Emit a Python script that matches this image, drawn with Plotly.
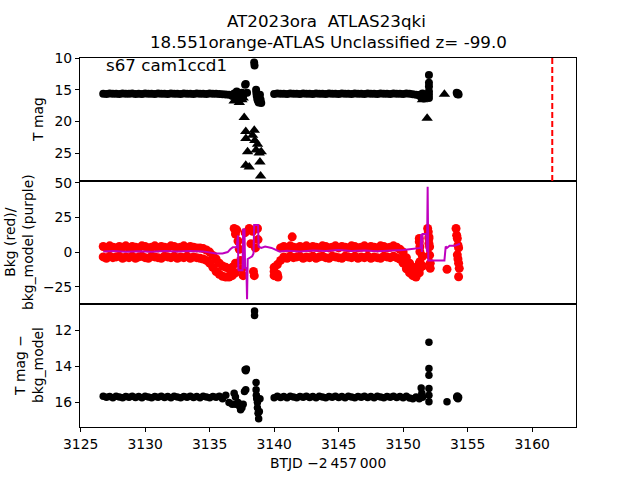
import plotly.graph_objects as go

# ---------------- data ----------------
t_seg1 = [3126.75, 3127.0, 3127.25, 3127.5, 3127.75, 3128.0, 3128.25, 3128.5, 3128.75, 3129.0,
          3129.25, 3129.5, 3129.75, 3130.0, 3130.25, 3130.5, 3130.75, 3131.0, 3131.25, 3131.5,
          3131.75, 3132.0, 3132.25, 3132.5, 3132.75, 3133.0, 3133.25, 3133.5, 3133.75, 3134.0,
          3134.25, 3134.5, 3134.75, 3135.0, 3135.25, 3135.5, 3135.75, 3136.0, 3136.25, 3136.5,
          3136.75, 3137.0]
t_seg2 = [3140.0, 3140.25, 3140.5, 3140.75, 3141.0, 3141.25, 3141.5, 3141.75, 3142.0, 3142.25,
          3142.5, 3142.75, 3143.0, 3143.25, 3143.5, 3143.75, 3144.0, 3144.25, 3144.5, 3144.75,
          3145.0, 3145.25, 3145.5, 3145.75, 3146.0, 3146.25, 3146.5, 3146.75, 3147.0, 3147.25,
          3147.5, 3147.75, 3148.0, 3148.25, 3148.5, 3148.75, 3149.0, 3149.25, 3149.5, 3149.75,
          3150.0, 3150.25, 3150.5, 3150.75, 3151.0, 3151.25, 3151.5]

# top panel: T mag
tmag_seg1 = [15.62, 15.66, 15.6, 15.65, 15.62, 15.68, 15.6, 15.65, 15.63, 15.6, 15.66, 15.62, 15.68, 15.6,
             15.65, 15.62, 15.66, 15.6, 15.65, 15.62, 15.68, 15.6, 15.65, 15.63, 15.66, 15.6, 15.65, 15.62,
             15.68, 15.6, 15.65, 15.62, 15.66, 15.6, 15.65, 15.62, 15.66, 15.7, 15.75, 15.8, 16.0, 15.8]
tmag_seg2 = [15.66, 15.6, 15.65, 15.62, 15.68, 15.6, 15.65, 15.62, 15.66, 15.6, 15.65, 15.62, 15.68, 15.6,
             15.65, 15.62, 15.66, 15.6, 15.65, 15.62, 15.68, 15.6, 15.65, 15.62, 15.66, 15.6, 15.65, 15.62,
             15.68, 15.6, 15.65, 15.62, 15.66, 15.6, 15.65, 15.62, 15.68, 15.6, 15.65, 15.62, 15.66, 15.6,
             15.65, 15.7, 15.8, 15.9, 15.8]
tmag_clu_t = [3136.9, 3137.0, 3137.1, 3137.2, 3137.3, 3137.4, 3137.5, 3137.6, 3137.75, 3137.8,
              3137.9, 3138.45, 3138.48, 3138.6, 3138.62, 3138.65, 3138.7, 3138.75, 3138.8, 3138.85,
              3138.9, 3138.95, 3139.0, 3151.3, 3151.4, 3151.5, 3151.6, 3152.0, 3152.0, 3152.0,
              3152.0, 3152.0, 3152.0, 3154.15, 3154.2, 3154.25, 3154.3]
tmag_clu_v = [15.6, 16.2, 15.3, 16.5, 15.8, 16.2, 15.5, 16.0, 14.2, 14.1,
              15.5, 10.7, 11.2, 15.0, 15.5, 16.0, 16.5, 16.8, 17.0, 16.2,
              15.8, 16.6, 17.1, 15.8, 16.2, 15.6, 16.4, 12.7, 13.9, 14.5,
              15.3, 15.8, 16.3, 15.5, 15.7, 15.6, 15.75]
tri_t = [3136.9, 3137.1, 3137.3, 3137.5, 3137.6, 3137.68, 3137.8, 3137.81, 3137.94, 3137.8,
         3138.07, 3138.46, 3138.33, 3138.5, 3138.6, 3138.71, 3138.84, 3138.9, 3139.0, 3138.95,
         3151.5, 3151.8, 3151.86, 3153.2]
tri_v = [16.8, 16.6, 17.0, 16.6, 16.3, 19.4, 21.6, 22.7, 24.8, 26.9,
         27.2, 21.4, 22.2, 23.0, 24.5, 23.6, 25.0, 26.4, 24.8, 28.6,
         16.6, 16.0, 19.5, 15.7]
event_t = [3161.56]

# middle panel: background (red) upper / lower scatter and model (purple)
bkg_hi_seg1 = [4, 3, 4.5, 3.5, 3, 4, 3.5, 4.5, 3, 4, 3.5, 3, 4.5, 4, 3, 3.5, 4.5, 3, 4, 3.5, 3, 4.5, 4, 3,
               3.5, 4.5, 3, 4, 3.5, 3, 3, 2.5, 1.5, 0, -2.5, -5, -8, -10, -11, -12, -11, -8]
bkg_lo_seg1 = [-3.5, -4.5, -3, -4, -3.5, -3, -4.5, -3.5, -4, -3, -4.5, -3.5, -3, -4, -4.5, -3, -3.5, -4,
               -4.5, -3, -3.5, -4, -3, -4.5, -3.5, -4, -3, -4.5, -3.5, -4, -4.5, -5, -6, -8, -11, -14,
               -16, -17.5, -18, -18, -17, -15]
bkg_hi_seg2 = [-11, -9, 3,
               4, 3, 4.5, 3.5, 3, 4, 3.5, 4.5, 3, 4, 3.5, 3, 4.5, 4, 3, 3.5, 4.5, 3,
               4, 3.5, 3, 4.5, 4, 3, 3.5, 4.5, 3, 4, 3.5, 3, 4.5, 4, 3, 3.5, 4.5, 3.5,
               2, 0, -4, -8, -11, -12, -8, -3]
bkg_lo_seg2 = [-17, -16, -6,
               -3.5, -4.5, -3, -4, -3.5, -3, -4.5, -3.5, -4, -3, -4.5, -3.5, -3, -4, -4.5, -3, -3.5, -4,
               -4.5, -3, -3.5, -4, -3, -4.5, -3.5, -4, -3, -4.5, -3.5, -4, -4.5, -3, -3.5, -4, -3, -4,
               -5, -8, -12, -15, -17, -18, -15, -10]
bkg_clu_t = [3136.9, 3137.0, 3137.1, 3137.2, 3137.3, 3137.4, 3137.5, 3137.6, 3137.75, 3138.07,
             3138.2, 3138.33, 3138.4, 3138.46, 3138.55, 3138.71, 3138.75, 3140.0, 3140.3, 3141.4,
             3151.25, 3151.25, 3151.3, 3151.3, 3151.3, 3151.3, 3151.9, 3151.95, 3152.0, 3152.0,
             3152.0, 3152.05, 3152.05, 3152.1, 3152.1, 3153.4, 3154.1, 3154.15, 3154.2, 3154.25,
             3154.3, 3154.2, 3154.25, 3154.3, 3154.35, 3154.3]
bkg_clu_v = [17, 13, 16, 8, 2, -6, -12, -17, 14, 17,
             6, 15, -14, -17, 3, 17, 9, -14, -18, 11,
             9.8, 7.4, 3.8, 0.2, -7, -11.7, 17, 14.6, 11, 9.8,
             6.2, 3.8, -2.2, -8, -11.7, -12.4, 17, 12.2, 9.8, 5,
             3, -2, -5, -8, -11.7, -17.8]
model_t = [3126.75, 3127.5, 3128.5, 3129.5, 3130.5, 3131.5, 3132.5, 3133.5, 3134.5, 3135.0,
           3135.5, 3136.0, 3136.4, 3136.6, 3136.8, 3137.1, 3137.2, 3137.22, 3137.25, 3137.55,
           3137.6, 3137.65, 3137.7, 3137.75, 3137.85, 3137.9, 3137.95, 3138.3, 3138.4, 3138.45,
           3138.75, 3138.8, 3139.0, 3139.3, 3139.8, 3140.4, 3141.0, 3142.0, 3143.0, 3144.0,
           3145.0, 3146.0, 3147.0, 3148.0, 3149.0, 3149.5, 3150.0, 3150.5, 3151.0, 3151.35,
           3151.4, 3151.45, 3151.5, 3151.8, 3151.85, 3151.9, 3151.95, 3153.2, 3153.3, 3153.4,
           3153.6, 3154.0, 3154.4]
model_v = [0.5, 0.8, 0.3, 0.6, 0.2, 0.7, 0.4, 0.8, 0.5, -0.5,
           -1, -1, 0, 2, 3.5, 3.5, 12, -12, -13, -13,
           17, -12, 17, -11, -12, -34, -5, -3, -1, 19.5,
           19.5, 4, 3, 4, 3, 0.5, 1, 0.5, 1.2, 0.8,
           1.5, 0.8, 1.2, 0.6, 0.9, 1, 1.5, 2, 2.5, 3,
           13, 0, 13, 13, 0, 47, -6, -6, 4, 3,
           4.5, 4.5, 6]

# bottom panel: T mag - bkg_model
diff_seg1 = [15.66, 15.72, 15.68, 15.74, 15.66, 15.7, 15.74, 15.67, 15.71, 15.66, 15.73, 15.68, 15.74, 15.66,
             15.7, 15.74, 15.67, 15.71, 15.66, 15.73, 15.68, 15.74, 15.66, 15.7, 15.74, 15.67, 15.71, 15.66,
             15.73, 15.68, 15.74, 15.66, 15.7, 15.74, 15.67, 15.71, 15.66, 15.8, 15.6, 16.0, 16.1, 15.7]
diff_seg2 = [15.74, 15.66, 15.73, 15.68, 15.74, 15.66, 15.7, 15.74, 15.67, 15.71, 15.66, 15.73, 15.68, 15.74,
             15.66, 15.7, 15.74, 15.67, 15.71, 15.66, 15.73, 15.68, 15.74, 15.66, 15.7, 15.74, 15.67, 15.71,
             15.66, 15.73, 15.68, 15.74, 15.66, 15.7, 15.74, 15.67, 15.71, 15.66, 15.73, 15.68, 15.74, 15.66,
             15.75, 15.8, 15.7, 15.8, 15.7]
diff_clu_t = [3136.9, 3137.0, 3137.2, 3137.3, 3137.4, 3137.5, 3137.6, 3137.75, 3137.8, 3137.85,
              3137.7, 3137.8, 3138.48, 3138.48, 3138.6, 3138.6, 3138.62, 3138.65, 3138.7, 3138.7,
              3138.75, 3138.8, 3138.85, 3138.9, 3151.4, 3151.45, 3151.5, 3152.0, 3152.0, 3152.0,
              3152.0, 3152.0, 3152.0, 3153.4, 3154.15, 3154.2, 3154.25, 3154.3, 3154.2]
diff_clu_v = [15.5, 16.1, 16.0, 16.2, 16.4, 16.3, 16.1, 14.2, 14.25, 14.15,
              15.4, 15.3, 10.95, 11.2, 14.9, 15.3, 15.6, 15.8, 16.0, 16.3,
              16.6, 16.9, 16.5, 15.8, 15.2, 15.5, 15.7, 12.68, 14.12, 14.5,
              15.23, 15.6, 15.97, 15.97, 15.7, 15.75, 15.8, 15.72, 15.65]

x_ticks = [3125, 3130, 3135, 3140, 3145, 3150, 3155, 3160]
top_ticks = [10, 15, 20, 25]
mid_ticks = [-25, 0, 25, 50]
bot_ticks = [12, 14, 16]

title1 = "AT2023ora\u00a0\u00a0ATLAS23qki"
title2 = "18.551orange-ATLAS Unclassified z= -99.0"
panel_label = "s67 cam1ccd1"
x_label = "BTJD \u22122\u2009457\u2009000"

# ---------------- figure ----------------
W, H = 640, 480
FONT = "DejaVu Sans"
BLACK = "#000000"
RED = "#ff0000"
PURPLE = "#bf00bf"

fig = go.Figure()

# top panel (x3/y3)
for tt, vv in [(t_seg1, tmag_seg1), (t_seg2, tmag_seg2), (tmag_clu_t, tmag_clu_v)]:
    fig.add_trace(go.Scatter(x=tt, y=vv, mode="markers", xaxis="x3", yaxis="y3",
                             marker=dict(color=BLACK, size=8, line=dict(width=0))))
fig.add_trace(go.Scatter(x=tri_t, y=tri_v, mode="markers", xaxis="x3", yaxis="y3",
                         marker=dict(color=BLACK, size=10, symbol="triangle-up", line=dict(width=0))))
fig.add_trace(go.Scatter(x=[event_t[0], event_t[0]], y=[10, 29.4], mode="lines", xaxis="x3", yaxis="y3",
                         line=dict(color=RED, width=2, dash="6px,3px")))

# middle panel (x2/y2)
for tt, vv in [(t_seg1, bkg_hi_seg1), (t_seg1, bkg_lo_seg1), (t_seg2, bkg_hi_seg2),
               (t_seg2, bkg_lo_seg2), (bkg_clu_t, bkg_clu_v)]:
    fig.add_trace(go.Scatter(x=tt, y=vv, mode="markers", xaxis="x2", yaxis="y2",
                             marker=dict(color=RED, size=9, line=dict(width=0))))
fig.add_trace(go.Scatter(x=model_t, y=model_v, mode="lines", xaxis="x2", yaxis="y2",
                         line=dict(color=PURPLE, width=2)))

# bottom panel (x/y)
for tt, vv in [(t_seg1, diff_seg1), (t_seg2, diff_seg2), (diff_clu_t, diff_clu_v)]:
    fig.add_trace(go.Scatter(x=tt, y=vv, mode="markers", xaxis="x", yaxis="y",
                             marker=dict(color=BLACK, size=7.5, line=dict(width=0))))

xr = [3124.95, 3163.4]
xd = [80 / W, 576 / W]
d_top = [1 - 181 / H, 1 - 58 / H]
d_mid = [1 - 304 / H, 1 - 181 / H]
d_bot = [1 - 427 / H, 1 - 304 / H]

axis_common = dict(showline=True, linecolor=BLACK, linewidth=1, mirror=True, showgrid=False,
                   zeroline=False, automargin=False, ticklen=4, tickwidth=1, tickcolor=BLACK,
                   tickfont=dict(family=FONT, size=13.9, color=BLACK))

fig.update_layout(
    template="none",
    width=W, height=H, margin=dict(l=0, r=0, t=0, b=0, pad=0),
    paper_bgcolor="white", plot_bgcolor="white", showlegend=False,
    xaxis=dict(domain=xd, anchor="y", range=xr, tickmode="array", tickvals=x_ticks,
               ticks="outside", **axis_common),
    xaxis2=dict(domain=xd, anchor="y2", range=xr, matches="x", showticklabels=False, ticks="",
                **axis_common),
    xaxis3=dict(domain=xd, anchor="y3", range=xr, matches="x", showticklabels=False, ticks="",
                **axis_common),
    yaxis=dict(domain=d_bot, anchor="x", range=[17.36, 10.56], tickmode="array", tickvals=bot_ticks,
               ticks="outside", **axis_common),
    yaxis2=dict(domain=d_mid, anchor="x2", range=[-37.4, 51.2], tickmode="array", tickvals=mid_ticks,
                ticks="outside", **axis_common),
    yaxis3=dict(domain=d_top, anchor="x3", range=[29.4, 10], tickmode="array", tickvals=top_ticks,
                ticks="outside", **axis_common),
)

def ann(text, x, y, size, **kw):
    fig.add_annotation(text=text, x=x / W, y=1 - y / H, xref="paper", yref="paper",
                       showarrow=False, font=dict(family=FONT, size=size, color=BLACK), **kw)

ann(title1, 326, 21, 16.7, xanchor="center", yanchor="middle")
ann(title2, 328, 42, 16.7, xanchor="center", yanchor="middle")
ann(panel_label, 104, 65, 16.7, xanchor="left", yanchor="middle")
ann(x_label, 328, 463, 13.9, xanchor="center", yanchor="middle")
ann("T mag", 38, 120, 13.9, xanchor="center", yanchor="middle", textangle=-90)
ann("Bkg (red)/<br>bkg_model (purple)", 19, 242, 13.9, xanchor="center", yanchor="middle", textangle=-90)
ann("T mag \u2212<br>bkg_model", 29, 365, 13.9, xanchor="center", yanchor="middle", textangle=-90)

fig.write_html("out.html")
